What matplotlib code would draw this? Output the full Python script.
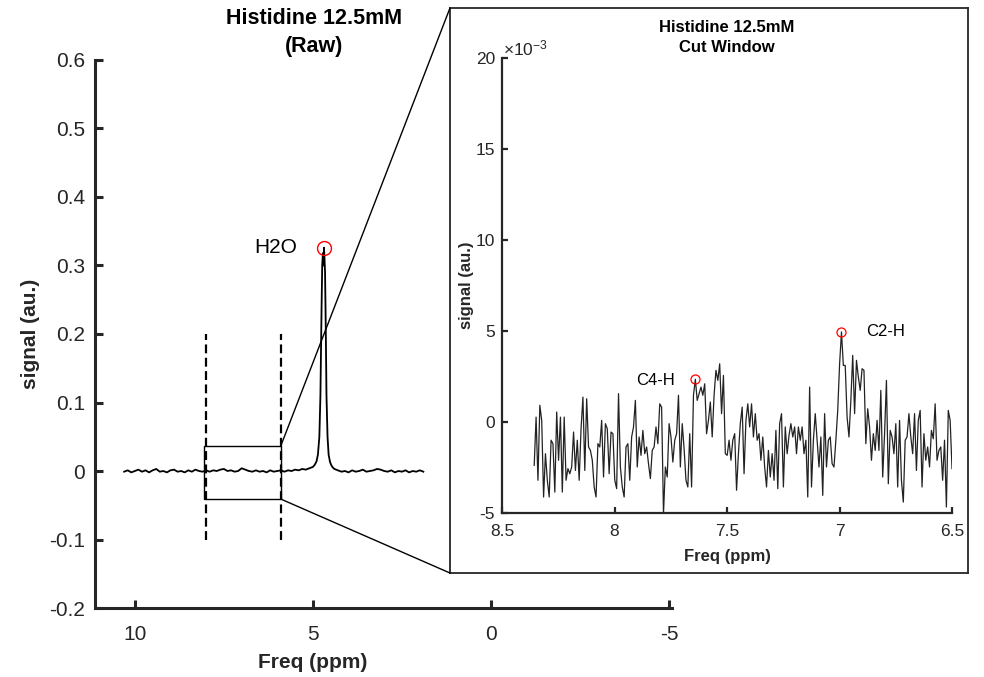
import numpy as np
import matplotlib
matplotlib.use("Agg")
import matplotlib.pyplot as plt
from matplotlib.patches import Rectangle, ConnectionPatch

plt.rcParams['font.family'] = ['Liberation Sans', 'DejaVu Sans']
plt.rcParams['axes.unicode_minus'] = False

GREY = '#262626'

# raw spectrum (ppm, signal in 1e-3 au)
main_ppm = [10.3, 10.2, 10.1, 10.0, 9.9, 9.8, 9.7, 9.6, 9.5, 9.4, 9.3, 9.2, 9.1, 9.0,
            8.9, 8.8, 8.7, 8.6, 8.5, 8.4, 8.3, 8.2, 8.1, 8.0, 7.9, 7.8, 7.7, 7.6, 7.5,
            7.4, 7.3, 7.2, 7.1, 7.0, 6.9, 6.8, 6.7, 6.6, 6.5, 6.4, 6.3, 6.2, 6.1, 6.0,
            5.9, 5.8, 5.7, 5.6, 5.5, 5.4, 5.3, 5.2, 5.1, 5.0, 4.95, 4.9, 4.86, 4.82,
            4.79, 4.76, 4.74, 4.72, 4.705, 4.69, 4.675, 4.66, 4.64, 4.62, 4.59, 4.56,
            4.52, 4.48, 4.44, 4.4, 4.3, 4.2, 4.1, 4.0, 3.9, 3.8, 3.7, 3.6, 3.5, 3.4,
            3.3, 3.2, 3.1, 3.0, 2.9, 2.8, 2.7, 2.6, 2.5, 2.4, 2.3, 2.2, 2.1, 2.0, 1.9]
main_sig = [-1, 1, -2, 0, 2, -1, 1, -2, 1, 3, -1, 0, -2, 1,
            2, -1, 0, -2, 1, -1, 2, 0, -1, 1, -1, 1, 0, 2, 3,
            0, 1, -1, 0, 4, 2, 0, -1, 1, -1, 0, -2, 1, -1, 0,
            1, -1, 1, 0, 2, 1, 3, 2, 4, 6, 9, 14, 24, 50,
            110, 230, 300, 318, 300, 326, 310, 290, 210, 110, 50, 24,
            13, 8, 5, 3, 1, -1, 0, -2, 1, -1, 0, 2, -1, 0,
            1, 3, 2, 0, -1, 1, -2, 0, -1, 1, -2, 0, -1, 1, -1]

# cut window spectrum (signal in 1e-3 au), 8.357 -> 6.5 ppm
cut_start, cut_end = 8.357, 6.5
cut_sig = [-2.38, 0.27, -3.2, 0.92, 0.09, -4.12, -1.74, -3.2, -4.12, -1.0,
           -1.19, -3.85, 0.55, -2.1, 0.27, -3.85, 0.27, -3.2, -2.56, -2.84,
           -2.47, -0.55, -2.66, -1.0, -3.2, -0.37, 1.37, -2.66, 1.28, -1.37,
           -1.56, -2.1, -3.57, -4.12, -1.19, -1.37, 0.09, -3.02, -0.09, -0.37,
           -2.84, -0.55, -0.64, -3.2, -3.66, 1.56, -2.47, -3.57, -4.12, -1.37,
           -1.19, -3.2, -0.82, -0.27, 1.19, -2.47, -0.82, -1.83, -0.46, -1.74,
           -1.37, -2.29, -3.11, -1.56, -1.37, -0.27, -1.19, 1.0, 0.82, -5.04,
           -2.47, -3.02, -0.09, -0.82, -2.2, -1.0, -0.64, 1.47, -2.47, -0.09,
           -1.47, -3.2, -3.57, -0.64, -3.57, 1.47, 2.35, 1.19, 1.56, 1.92,
           1.47, 2.1, -0.64, 0.09, 1.1, -0.82, 1.47, 2.84, 2.29, 3.2,
           0.46, 2.56, -1.74, -1.83, -1.0, -2.1, -1.0, -0.64, -3.75, -1.74,
           -0.09, 0.82, -2.84, 0.09, 1.0, -0.27, 1.0, -0.82, 0.46, -1.0,
           -0.64, -2.1, -0.82, -2.47, -3.57, -1.56, -3.02, -1.74, -3.2, -0.46,
           -3.66, -0.09, 0.46, -3.57, -0.27, -1.74, -0.73, -0.09, -0.82, -0.27,
           -1.74, -0.27, -1.0, -0.27, -1.74, -1.0, -4.12, 1.92, -3.57, -1.0,
           0.46, -1.0, -2.47, -0.82, -4.03, 0.46, -2.47, -1.0, -0.82, -2.29,
           -2.47, -1.0, 0.64, 3.2, 4.95, 3.11, 3.11, 0.27, -0.82, 1.19,
           3.66, 0.46, 3.39, 2.47, 1.74, 2.93, 2.84, -1.19, 0.73, -0.27,
           -2.1, -0.64, -1.56, 0.09, -1.56, 1.74, -3.02, -0.64, 2.29, -3.39,
           -0.46, -0.82, -1.74, -0.09, -3.57, 0.09, -3.2, -4.4, -1.0, -0.82,
           0.46, -0.82, -1.74, 0.46, -2.66, 0.09, 0.64, -3.57, -0.64, -2.1,
           -1.37, -2.47, -0.46, -0.92, 1.0, -2.1, -1.56, -1.37, -3.2, -1.0,
           -4.67, 0.64, 0.09, -2.56]

cut_lines = [8.0, 5.9]          # dashed window markers
zoom_box = [8.05, 5.9, -0.041, 0.037]  # x0, x1, y0, y1
peak_names = ['C4-H', 'C2-H']
peak_idx = [86, 164]
peak_text_pos = [(7.905, 2.3), (6.88, 5.0)]

main_ppm = np.array(main_ppm)
main_sig = np.array(main_sig) * 1e-3
cut_sig = np.array(cut_sig) * 1e-3
cut_ppm = np.linspace(cut_start, cut_end, len(cut_sig))

fig = plt.figure(figsize=(9.84, 6.77), dpi=100)

# ---- main axes
ax = fig.add_axes([0.0965, 0.1019, 0.5864, 0.8095])
ax.plot(main_ppm, main_sig, color='k', lw=1.3)
ipk = np.argmax(main_sig)
ax.plot(main_ppm[ipk], main_sig[ipk], 'o', mfc='none', mec='red', ms=10, mew=1)
ax.text(5.45, main_sig[ipk], 'H2O', fontsize=15, ha='right', va='center')
for c in cut_lines:
    ax.plot([c, c], [-0.1, 0.2], color='k', lw=1.6, ls=(0, (4, 2)))
x0, x1, y0, y1 = zoom_box
ax.add_patch(Rectangle((x1, y0), x0 - x1, y1 - y0, fill=False, ec='k', lw=1))

ax.set_xlim(11.12, -5.08)
ax.set_ylim(-0.2, 0.6)
ax.set_xticks([10, 5, 0, -5])
ax.set_yticks(np.round(np.arange(-0.2, 0.61, 0.1), 1))
ax.xaxis.set_major_formatter(lambda v, p: f'{v:g}')
ax.yaxis.set_major_formatter(lambda v, p: f'{v:g}')
for s in ['top', 'right']:
    ax.spines[s].set_visible(False)
for s in ['left', 'bottom']:
    ax.spines[s].set_linewidth(2.2)
    ax.spines[s].set_color(GREY)
ax.tick_params(direction='in', length=6, width=2.2, colors=GREY, labelsize=15)
ax.tick_params(axis='x', pad=12)
ax.tick_params(axis='y', pad=7)
ax.set_xlabel('Freq (ppm)', fontsize=15, fontweight='bold', color=GREY)
ax.set_ylabel('signal (au.)', fontsize=15, fontweight='bold', color=GREY)
ax.xaxis.set_label_coords(0.378, -0.082)
ax.yaxis.set_label_coords(-0.095, 0.5)
fig.text(314 / 984, 1 - 8 / 677, 'Histidine 12.5mM\n(Raw)', ha='center', va='top',
         fontsize=15.5, fontweight='bold', linespacing=1.45)

# ---- inset frame
frame = fig.add_axes([0.4573, 0.1536, 0.5264, 0.8346])
frame.set_xticks([])
frame.set_yticks([])
for s in frame.spines.values():
    s.set_linewidth(1.3)
    s.set_color(GREY)

for (fx, fy), (dx, dy) in [((0, 1), (x1, y1)), ((0, 0), (x1, y0))]:
    con = ConnectionPatch(xyA=(dx, dy), coordsA=ax.transData,
                          xyB=(fx, fy), coordsB=frame.transAxes,
                          color='k', lw=1)
    fig.add_artist(con)

# ---- inset axes
ai = fig.add_axes([0.5102, 0.2422, 0.4573, 0.6721])
ai.plot(cut_ppm, cut_sig, color='#222222', lw=0.9)
for name, i, (tx, ty) in zip(peak_names, peak_idx, peak_text_pos):
    ai.plot(cut_ppm[i], cut_sig[i], 'o', mfc='none', mec='red', ms=6.5, mew=0.9)
    ai.text(tx, ty * 1e-3, name, fontsize=12, ha='left', va='center')
ai.set_xlim(8.5, 6.5)
ai.set_ylim(-5e-3, 20e-3)
ai.set_xticks([8.5, 8, 7.5, 7, 6.5])
ai.set_yticks(np.arange(-5, 21, 5) * 1e-3)
ai.xaxis.set_major_formatter(lambda v, p: f'{v:g}')
ai.yaxis.set_major_formatter(lambda v, p: f'{v * 1e3:.0f}')
for s in ['top', 'right']:
    ai.spines[s].set_visible(False)
for s in ['left', 'bottom']:
    ai.spines[s].set_linewidth(1.6)
    ai.spines[s].set_color(GREY)
ai.tick_params(direction='in', length=4, width=1.6, colors=GREY, labelsize=12.5)
ai.tick_params(axis='x', pad=8)
ai.tick_params(axis='y', pad=5)
ai.text(0.003, 1.0, r'$\mathregular{\times10^{-3}}$', transform=ai.transAxes,
        fontsize=12.5, ha='left', va='bottom', color=GREY)
ai.set_xlabel('Freq (ppm)', fontsize=12, fontweight='bold', color=GREY)
ai.set_ylabel('signal (au.)', fontsize=12, fontweight='bold', color=GREY)
ai.xaxis.set_label_coords(0.5, -0.08)
ai.yaxis.set_label_coords(-0.062, 0.5)
ai.set_title('Histidine 12.5mM\nCut Window', fontsize=12,
             fontweight='bold', pad=4, linespacing=1.45)

fig.savefig('out.png', dpi=100)
